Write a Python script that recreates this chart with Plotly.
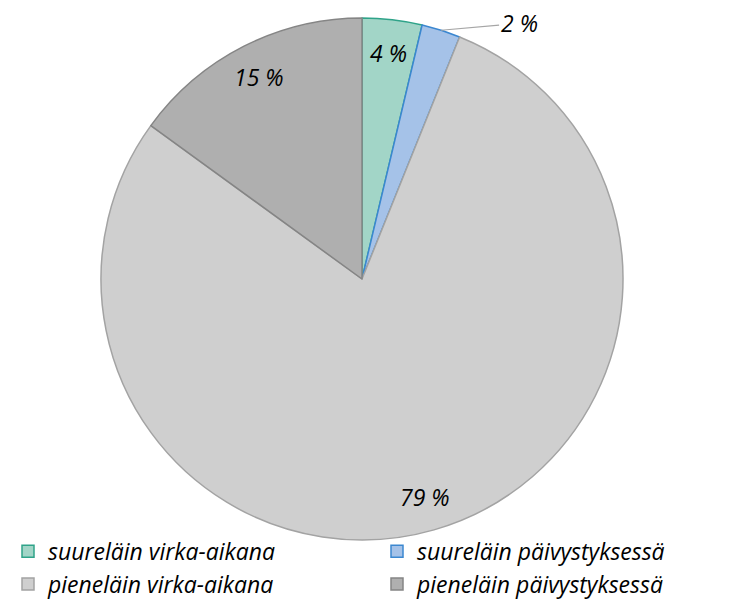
import math
import plotly.graph_objects as go

# shares of cases (%), clockwise from 12 o'clock
labels = ["suureläin virka-aikana", "suureläin päivystyksessä",
          "pieneläin virka-aikana", "pieneläin päivystyksessä"]
values = [3.7, 2.4, 78.9, 15.0]
text = [f"{round(v)} %" for v in values]

fill_colors = ["#a2d5c7", "#a5c2e8", "#cfcfcf", "#afafaf"]
line_colors = ["#2fa389", "#3b87d0", "#a3a3a3", "#858585"]

W, H = 734, 605
# pie geometry in page pixels (page has an 8px body margin)
cx_px, cy_px, r_px = 354, 271, 261

label_font = dict(family="Open Sans", size=23, color="black", style="italic")

fig = go.Figure(go.Pie(
    labels=labels, values=values,
    sort=False, direction="clockwise", rotation=0,
    textinfo="none", hoverinfo="label+percent",
    marker=dict(colors=fill_colors, line=dict(color=line_colors, width=1.5)),
    domain=dict(x=[(cx_px - r_px) / W, (cx_px + r_px) / W],
                y=[1 - (cy_px + r_px) / H, 1 - (cy_px - r_px) / H]),
))

# slice labels at the middle angle of each slice
total = sum(values)
cum = 0
for v, t in zip(values, text):
    mid = 2 * math.pi * (cum + v / 2) / total
    cum += v
    if v < 3:
        # small slice: label outside with a leader line
        fig.add_annotation(
            x=(cx_px + r_px * math.sin(mid)) / W,
            y=1 - (cy_px - r_px * math.cos(mid)) / H,
            xref="paper", yref="paper", text=t, font=label_font,
            showarrow=True, arrowhead=0, arrowwidth=1.2, arrowcolor="#a6a6a6",
            ax=78, ay=-7, standoff=0)
    else:
        k = 0.87
        fig.add_annotation(
            x=(cx_px + k * r_px * math.sin(mid)) / W,
            y=1 - (cy_px - k * r_px * math.cos(mid)) / H,
            xref="paper", yref="paper", text=t, font=label_font,
            xanchor="center", yanchor="middle", showarrow=False)

fig.update_layout(
    width=W, height=H,
    margin=dict(l=0, r=0, t=0, b=0),
    paper_bgcolor="white",
    legend=dict(orientation="h", x=0, xanchor="left", y=0.012, yanchor="bottom",
                entrywidth=324, entrywidthmode="pixels",
                bgcolor="rgba(0,0,0,0)",
                font=dict(family="Open Sans", size=23, color="black", style="italic")),
)

fig.write_html("out.html")
